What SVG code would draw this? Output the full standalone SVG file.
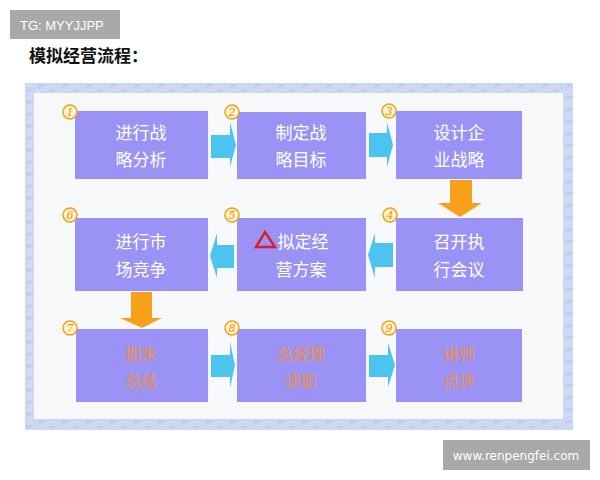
<svg xmlns="http://www.w3.org/2000/svg" width="600" height="480" viewBox="0 0 600 480">
<defs>
<style>
.box{fill:#9a93f5;}
.t{font-family:"Noto Sans CJK SC","Noto Sans",sans-serif;font-size:17px;fill:#ffffff;text-anchor:middle;}
.to{font-family:"Noto Sans CJK SC","Noto Sans",sans-serif;font-size:16px;fill:#ee8f45;text-anchor:middle;}
.num circle{fill:#fff4c8;stroke:#eea020;stroke-width:1.5;}
.num text{font-family:"DejaVu Serif",serif;font-style:italic;font-size:11px;fill:#e8901a;text-anchor:middle;}
.ba{fill:#4dc4ef;}
.oa{fill:#f7a11a;}
</style>
<pattern id="tex" width="24" height="12" patternUnits="userSpaceOnUse">
<rect width="24" height="12" fill="#cad8f2"/>
<path d="M0 3 L8 1 M12 8 L22 5 M4 10 L10 9" stroke="#ded6f2" stroke-width="2"/>
<path d="M14 2 L20 1 M2 7 L7 6" stroke="#b4c8ec" stroke-width="1.5"/>
</pattern>
</defs>
<rect width="600" height="480" fill="#ffffff"/>
<g id="tag">
<rect x="10" y="10" width="110" height="29" fill="#a9a9a9"/>
<text x="20" y="30" font-family="Liberation Sans, sans-serif" font-size="13" fill="#ffffff">TG: MYYJJPP</text>
</g>
<text id="title" x="29" y="62" font-family="Noto Sans CJK SC, sans-serif" font-size="17" font-weight="bold" fill="#111111">模拟经营流程：</text>
<g id="frame">
<rect x="25" y="83" width="548" height="347" fill="url(#tex)"/>
<rect x="34" y="93" width="529" height="326" fill="#f7f8f9"/>
</g>
<g id="connectors">
<polygon class="ba" points="211,135 230,135 230,122 236,145 230,167 230,158 211,158"/>
<polygon class="ba" points="369,133 387,133 387,122 393,145 387,167 387,157 369,157"/>
<polygon class="oa" points="450,180 472,180 472,203 482,203 460,217 438,203 450,203"/>
<polygon class="ba" points="393,243 375,243 375,233 368,255 375,278 375,267 393,267"/>
<polygon class="ba" points="234,245 217,245 217,233 210,256 217,278 217,268 234,268"/>
<polygon class="oa" points="131,292 152,292 152,318 162,318 142,328 120,318 131,318"/>
<polygon class="ba" points="211,355 230,355 230,342 235,365 230,388 230,377 211,377"/>
<polygon class="ba" points="369,355 388,355 388,343 395,365 388,387 388,377 369,377"/>
</g>
<g id="n1"><rect class="box" x="75" y="111" width="133" height="68"/><text class="t" x="141" y="139">进行战</text><text class="t" x="141" y="166">略分析</text></g>
<g id="n2"><rect class="box" x="237" y="112" width="129" height="67"/><text class="t" x="301" y="139">制定战</text><text class="t" x="301" y="166">略目标</text></g>
<g id="n3"><rect class="box" x="396" y="111" width="126" height="68"/><text class="t" x="459" y="139">设计企</text><text class="t" x="459" y="166">业战略</text></g>
<g id="n4"><rect class="box" x="396" y="218" width="127" height="73"/><text class="t" x="459" y="248">召开执</text><text class="t" x="459" y="276">行会议</text></g>
<g id="n5"><rect class="box" x="237" y="218" width="129" height="73"/><polygon points="256,247 265,232 275,247" fill="none" stroke="#d8202a" stroke-width="2.5"/><text class="t" x="303" y="248">拟定经</text><text class="t" x="301" y="276">营方案</text></g>
<g id="n6"><rect class="box" x="75" y="218" width="133" height="73"/><text class="t" x="141" y="248">进行市</text><text class="t" x="141" y="276">场竞争</text></g>
<g id="n7"><rect class="box" x="76" y="329" width="132" height="73"/><text class="to" x="141" y="360">期末</text><text class="to" x="141" y="387">总结</text></g>
<g id="n8"><rect class="box" x="237" y="329" width="129" height="73"/><text class="to" x="301" y="360">总经理</text><text class="to" x="301" y="387">述职</text></g>
<g id="n9"><rect class="box" x="396" y="329" width="126" height="73"/><text class="to" x="459" y="360">讲师</text><text class="to" x="459" y="387">点评</text></g>
<g id="numbers">
<g class="num"><circle cx="70" cy="112" r="7"/><text x="70" y="116">1</text></g>
<g class="num"><circle cx="232" cy="112" r="7"/><text x="232" y="116">2</text></g>
<g class="num"><circle cx="389" cy="111" r="7"/><text x="389" y="115">3</text></g>
<g class="num"><circle cx="390" cy="215" r="7"/><text x="390" y="219">4</text></g>
<g class="num"><circle cx="232" cy="215" r="7"/><text x="232" y="219">5</text></g>
<g class="num"><circle cx="70" cy="215" r="7"/><text x="70" y="219">6</text></g>
<g class="num"><circle cx="70" cy="328" r="7"/><text x="70" y="332">7</text></g>
<g class="num"><circle cx="232" cy="328" r="7"/><text x="232" y="332">8</text></g>
<g class="num"><circle cx="389" cy="328" r="7"/><text x="389" y="332">9</text></g>
</g>
<g id="watermark">
<rect x="443" y="440" width="147" height="30" fill="#a9a9a9"/>
<text x="516" y="460" font-family="DejaVu Sans, sans-serif" font-size="12" fill="#ffffff" text-anchor="middle">www.renpengfei.com</text>
</g>
</svg>
